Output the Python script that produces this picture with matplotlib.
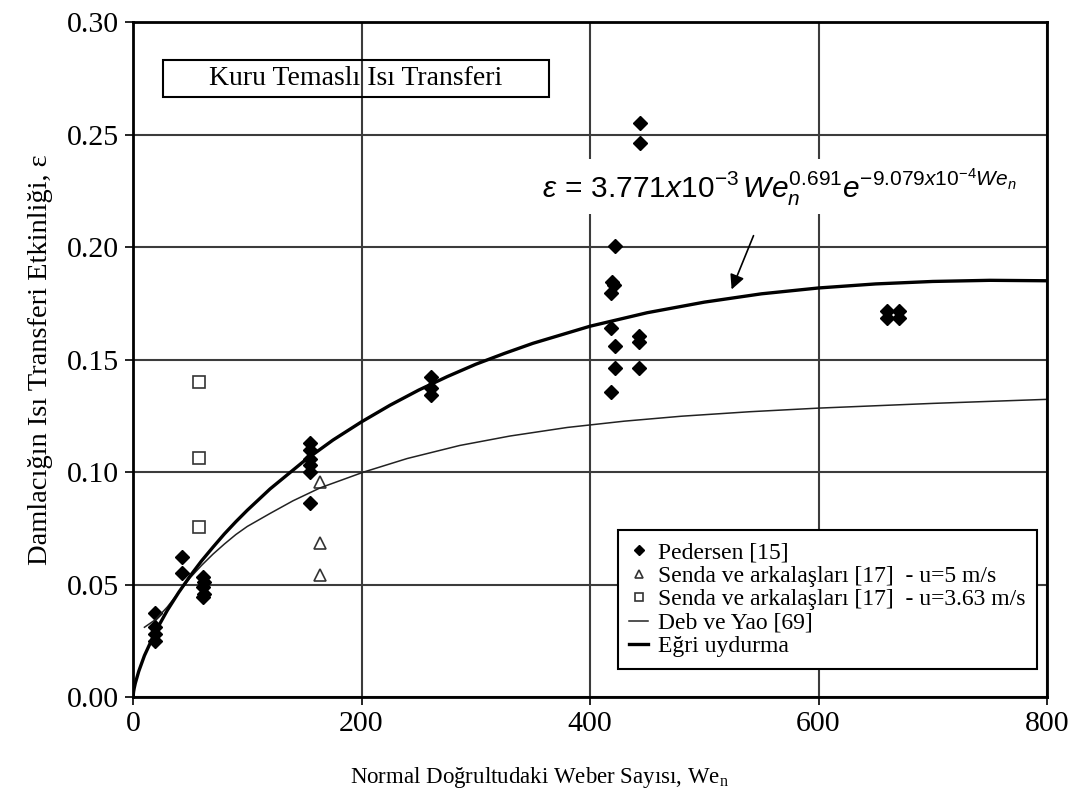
import matplotlib
matplotlib.use("Agg")
import matplotlib.pyplot as plt
from matplotlib.ticker import FormatStrFormatter

plt.rcParams['font.family'] = ['Liberation Serif', 'DejaVu Serif']
plt.rcParams['mathtext.fontset'] = 'custom'
plt.rcParams['mathtext.rm'] = 'Liberation Sans'
plt.rcParams['mathtext.it'] = 'Liberation Sans:italic'
plt.rcParams['mathtext.bf'] = 'Liberation Sans:bold'

# Pedersen [15]
ped_x = [19, 19, 19, 19, 43, 43, 61, 62, 61, 62, 61,
         155, 155, 155, 155, 155, 155, 261, 261, 261,
         422, 419, 421, 418, 418, 422, 422, 418,
         444, 444, 443, 443, 443,
         660, 670, 660, 670]
ped_y = [0.0375, 0.031, 0.028, 0.025, 0.0624, 0.055, 0.0535, 0.051, 0.049, 0.046, 0.0446,
         0.1128, 0.1098, 0.106, 0.1031, 0.1001, 0.0861, 0.1424, 0.1372, 0.1342,
         0.2004, 0.1846, 0.1831, 0.1797, 0.1641, 0.1561, 0.1464, 0.1357,
         0.2552, 0.2461, 0.1604, 0.1579, 0.1464,
         0.1685, 0.1685, 0.1715, 0.1715]

# Senda ve arkalaslari, u=5 m/s
tri_x = [164, 164, 164]
tri_y = [0.0957, 0.0683, 0.0542]

# Senda ve arkalaslari, u=3.63 m/s
sq_x = [58, 58, 58]
sq_y = [0.1401, 0.1061, 0.0757]

# Deb ve Yao [69]
deb_x = [10, 20, 30, 40, 50, 60, 70, 80, 90, 100, 120, 140, 164, 202, 240, 286, 330,
         380, 430, 480, 540, 600, 700, 800]
deb_y = [0.031, 0.0345, 0.040, 0.0465, 0.053, 0.0585, 0.0635, 0.068, 0.0722, 0.0758,
         0.0816, 0.0872, 0.0930, 0.1000, 0.1060, 0.1118, 0.1160, 0.1198, 0.1226, 0.1248,
         0.1268, 0.1284, 0.1305, 0.1323]

# curve fit
fit_x = [0, 0.5, 1, 2, 5, 10, 20, 30, 40, 50, 60, 70, 80, 90, 100, 120, 150, 175, 200,
         225, 250, 275, 300, 325, 350, 400, 450, 500, 550, 600, 650, 700, 750, 800]
fit_y = [0, 0.0023, 0.0038, 0.0061, 0.0114, 0.0184, 0.0294, 0.0385, 0.0465, 0.0538,
         0.0605, 0.0666, 0.0725, 0.0779, 0.083, 0.0925, 0.105, 0.1142, 0.1223, 0.1297,
         0.1364, 0.1424, 0.1479, 0.1527, 0.1572, 0.1648, 0.1708, 0.1755, 0.1792, 0.1818,
         0.1836, 0.1847, 0.1852, 0.1850]

fig = plt.figure(figsize=(10.77, 8.07), dpi=100)
ax = fig.add_axes([0.1235, 0.1363, 0.8487, 0.8364])

ax.plot(ped_x, ped_y, 'D', color='black', markersize=7.5, linestyle='none', label='Pedersen [15]')
ax.plot(tri_x, tri_y, '^', color='#333333', markerfacecolor='white', markeredgewidth=1.2,
        markersize=9, linestyle='none', label='Senda ve arkalaşları [17]  - u=5 m/s')
ax.plot(sq_x, sq_y, 's', color='#333333', markerfacecolor='white', markeredgewidth=1.2,
        markersize=8.5, linestyle='none', label='Senda ve arkalaşları [17]  - u=3.63 m/s')
ax.plot(deb_x, deb_y, '-', color='#222222', linewidth=1.1, label='Deb ve Yao [69]')
ax.plot(fit_x, fit_y, '-', color='black', linewidth=2.4, label='Eğri uydurma')

ax.set_xlim(0, 800)
ax.set_ylim(0, 0.30)
ax.set_xticks([0, 200, 400, 600, 800])
ax.set_yticks([0, 0.05, 0.10, 0.15, 0.20, 0.25, 0.30])
ax.yaxis.set_major_formatter(FormatStrFormatter('%.2f'))
ax.grid(True, color='#3c3c3c', linewidth=1.5)
ax.set_axisbelow(True)
for s in ax.spines.values():
    s.set_linewidth(2)
    s.set_color('black')
ax.tick_params(direction='out', length=6, width=1.2, labelsize=21.5, pad=4)

ax.set_xlabel('Normal Doğrultudaki Weber Sayısı, We$\\mathregular{_n}$', fontsize=16.5)
ax.xaxis.set_label_coords(0.445, -0.10)
ax.set_ylabel('Damlacığın Isı Transferi Etkinliği, ε', fontsize=20.5, labelpad=10)

ax.text(0.244, 0.917, 'Kuru Temaslı Isı Transferi', transform=ax.transAxes, fontsize=20,
        ha='center', va='center')
ax.add_patch(plt.Rectangle((0.033, 0.889), 0.422, 0.055, transform=ax.transAxes,
                           fill=False, edgecolor='black', linewidth=1.5, zorder=5))

ax.text(566, 0.2267,
        r'$\varepsilon\,=\,3.771x10^{-3}\,We_n^{0.691}e^{-9.079x10^{-4}We_n}$',
        fontsize=21.5, ha='center', va='center', zorder=6,
        bbox=dict(facecolor='white', edgecolor='none', pad=5))
ax.annotate('', xy=(523, 0.1800), xytext=(544, 0.2062),
            arrowprops=dict(arrowstyle='-|>', color='black', lw=1.2, mutation_scale=22),
            zorder=6)

leg = ax.legend(loc='lower right', bbox_to_anchor=(0.989, 0.0415), borderaxespad=0,
                fontsize=17, frameon=True, fancybox=False, edgecolor='black', framealpha=1,
                handlelength=0.8, handletextpad=0.4, labelspacing=0.08,
                borderpad=0.5, markerscale=0.7)
leg.get_frame().set_linewidth(1.5)

fig.savefig('out.png', dpi=100)
